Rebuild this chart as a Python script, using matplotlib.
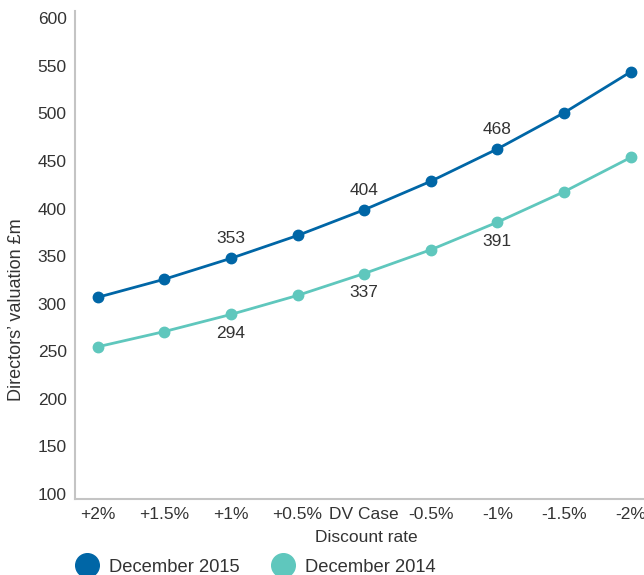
import matplotlib
matplotlib.use("Agg")
import matplotlib.pyplot as plt
import matplotlib.transforms as mtransforms
from matplotlib.lines import Line2D

plt.rcParams['font.family'] = ['Liberation Sans', 'DejaVu Sans']

categories = ["+2%", "+1.5%", "+1%", "+0.5%", "DV Case", "-0.5%", "-1%", "-1.5%", "-2%"]
dec2015 = [312, 331, 353, 377, 404, 434, 468, 506, 549]
dec2014 = [260, 276, 294, 314, 337, 362, 391, 423, 459]
labels2015 = {2: "353", 4: "404", 6: "468"}
labels2014 = {2: "294", 4: "337", 6: "391"}
yticks = [100, 150, 200, 250, 300, 350, 400, 450, 500, 550, 600]

c15 = "#0066a6"
c14 = "#5fc7bd"
txt = "#333333"

W, H = 644, 575
fig = plt.figure(figsize=(W / 100, H / 100), dpi=100)
ax = fig.add_axes([75 / W, 1 - 499 / H, 1 - 75 / W, (499 - 11) / H])

x = list(range(len(categories)))
ax.plot(x, dec2015, color=c15, lw=2.0, marker='o', ms=7.5, clip_on=False, zorder=3)
ax.plot(x, dec2014, color=c14, lw=2.0, marker='o', ms=7.5, clip_on=False, zorder=3)

for i, s in labels2015.items():
    ax.annotate(s, (x[i], dec2015[i]), xytext=(0, 14), textcoords='offset points',
                ha='center', va='center', fontsize=12.5, color=txt)
for i, s in labels2014.items():
    ax.annotate(s, (x[i], dec2014[i]), xytext=(0, -14), textcoords='offset points',
                ha='center', va='center', fontsize=12.5, color=txt)

ax.set_xlim(-0.34, 8.2)
ax.set_ylim(100, 613)
ax.set_xticks(x)
ax.set_xticklabels(categories, fontsize=12.5, color=txt)
ax.set_yticks(yticks)
ax.set_yticklabels([str(v) for v in yticks], fontsize=12.5, color=txt)
ax.tick_params(axis='both', length=0)
ax.tick_params(axis='y', pad=6)
ax.tick_params(axis='x', pad=6)
off = mtransforms.ScaledTranslation(0, 5 / 100, fig.dpi_scale_trans)
for lab in ax.get_yticklabels():
    lab.set_transform(lab.get_transform() + off)

for side in ['top', 'right']:
    ax.spines[side].set_visible(False)
for side in ['left', 'bottom']:
    ax.spines[side].set_color('#c4c4c4')
    ax.spines[side].set_linewidth(1.5)

fig.text(366 / W, 1 - 537 / H, "Discount rate", ha='center', va='center', fontsize=12.5, color=txt)
fig.text(17 / W, 1 - 310 / H, "Directors\u2019 valuation \u00a3m", ha='center', va='center',
         rotation=90, fontsize=13, color=txt)

# legend
for cx, col, lab in [(87, c15, "December 2015"), (283, c14, "December 2014")]:
    fig.lines.append(Line2D([cx / W], [1 - 565 / H], marker='o', ms=17, color=col,
                            transform=fig.transFigure, linestyle='none'))
    fig.text((cx + 22) / W, 1 - 567 / H, lab, ha='left', va='center', fontsize=13.2, color=txt)

fig.savefig("out.png", dpi=100)
